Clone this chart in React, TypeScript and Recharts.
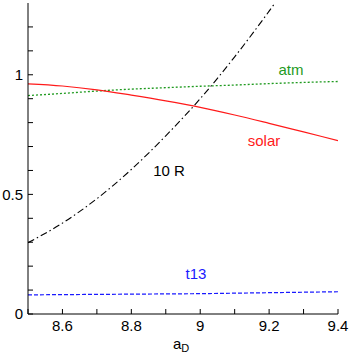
import {
  LineChart,
  Line,
  XAxis,
  YAxis,
  Customized,
} from "recharts";

// a_D sample points
const aD = [8.5, 8.6, 8.7, 8.8, 8.9, 9.0, 9.1, 9.2, 9.3, 9.4];

const solar = [0.962, 0.953, 0.937, 0.915, 0.891, 0.864, 0.832, 0.797, 0.761, 0.725];
const atm = [0.913, 0.922, 0.932, 0.94, 0.946, 0.952, 0.957, 0.963, 0.968, 0.972];
const tenR = [0.298, 0.38, 0.482, 0.604, 0.745, 0.9, 1.075, 1.266, 1.47, 1.69];
const t13 = [0.08, 0.081, 0.082, 0.083, 0.084, 0.085, 0.087, 0.089, 0.091, 0.093];

const xTicks = [8.5, 8.6, 8.7, 8.8, 8.9, 9.0, 9.1, 9.2, 9.3, 9.4];
const xLabels = [8.6, 8.8, 9.0, 9.2, 9.4];
const yTicks = [0, 0.1, 0.2, 0.3, 0.4, 0.5, 0.6, 0.7, 0.8, 0.9, 1.0, 1.1, 1.2];
const yLabels = [0, 0.5, 1];

const data = aD.map((x, i) => ({
  x,
  solar: solar[i],
  atm: atm[i],
  tenR: tenR[i],
  t13: t13[i],
}));

const FONT = '"Liberation Sans", Arial, sans-serif';

const same = (a: number, b: number) => Math.abs(a - b) < 1e-6;

const fmtX = (v: number) =>
  xLabels.some((l) => same(l, v)) ? String(Math.round(v * 10) / 10) : "";
const fmtY = (v: number) =>
  yLabels.some((l) => same(l, v)) ? String(v) : "";

function Annotations() {
  return (
    <g style={{ fontFamily: FONT }} fontSize={15}>
      <text x={291} y={75} fill="#1f9a1f" textAnchor="middle">atm</text>
      <text x={264} y={146} fill="#ff1a1a" textAnchor="middle">solar</text>
      <text x={169} y={176} fill="#000" textAnchor="middle">10 R</text>
      <text x={196} y={279} fill="#1a1aff" textAnchor="middle">t13</text>
      <text x={173} y={349} fill="#000">
        a<tspan fontSize={11} dy={3}>D</tspan>
      </text>
    </g>
  );
}

export default function App() {
  return (
    <div style={{ position: "absolute", left: 0, top: 0 }}>
      <LineChart
        width={352}
        height={360}
        data={data}
        margin={{ top: 3, right: 14, bottom: 0, left: 0 }}
        style={{ fontFamily: FONT, background: "#fff" }}
      >
        <XAxis
          dataKey="x"
          type="number"
          domain={[8.5, 9.4]}
          ticks={xTicks}
          tickFormatter={fmtX}
          interval={0}
          height={46}
          tickSize={-5}
          tickMargin={11}
          stroke="#000"
          tick={{ fontSize: 15, fill: "#000" }}
          allowDataOverflow
        />
        <XAxis
          xAxisId="top"
          orientation="top"
          dataKey="x"
          type="number"
          domain={[8.5, 9.4]}
          ticks={xTicks}
          interval={0}
          height={0}
          tickSize={-5}
          tick={false}
          stroke="#000"
          allowDataOverflow
        />
        <YAxis
          type="number"
          domain={[0, 1.3]}
          ticks={yTicks}
          tickFormatter={fmtY}
          interval={0}
          width={28}
          tickSize={-5}
          tickMargin={10}
          stroke="#000"
          tick={{ fontSize: 15, fill: "#000" }}
          allowDataOverflow
        />
        <YAxis
          yAxisId="right"
          orientation="right"
          type="number"
          domain={[0, 1.3]}
          ticks={yTicks}
          interval={0}
          width={0}
          tickSize={-5}
          tick={false}
          stroke="#000"
          allowDataOverflow
        />
        <Line
          dataKey="atm"
          type="monotone"
          stroke="#1f9a1f"
          strokeWidth={1.3}
          strokeDasharray="2 2"
          dot={false}
          isAnimationActive={false}
        />
        <Line
          dataKey="solar"
          type="monotone"
          stroke="#ff1a1a"
          strokeWidth={1.2}
          dot={false}
          isAnimationActive={false}
        />
        <Line
          dataKey="tenR"
          type="monotone"
          stroke="#000"
          strokeWidth={1.1}
          strokeDasharray="7 3 1.5 3"
          dot={false}
          isAnimationActive={false}
        />
        <Line
          dataKey="t13"
          type="monotone"
          stroke="#1a1aff"
          strokeWidth={1.2}
          strokeDasharray="4 2"
          dot={false}
          isAnimationActive={false}
        />
        <Customized component={Annotations} />
      </LineChart>
    </div>
  );
}
